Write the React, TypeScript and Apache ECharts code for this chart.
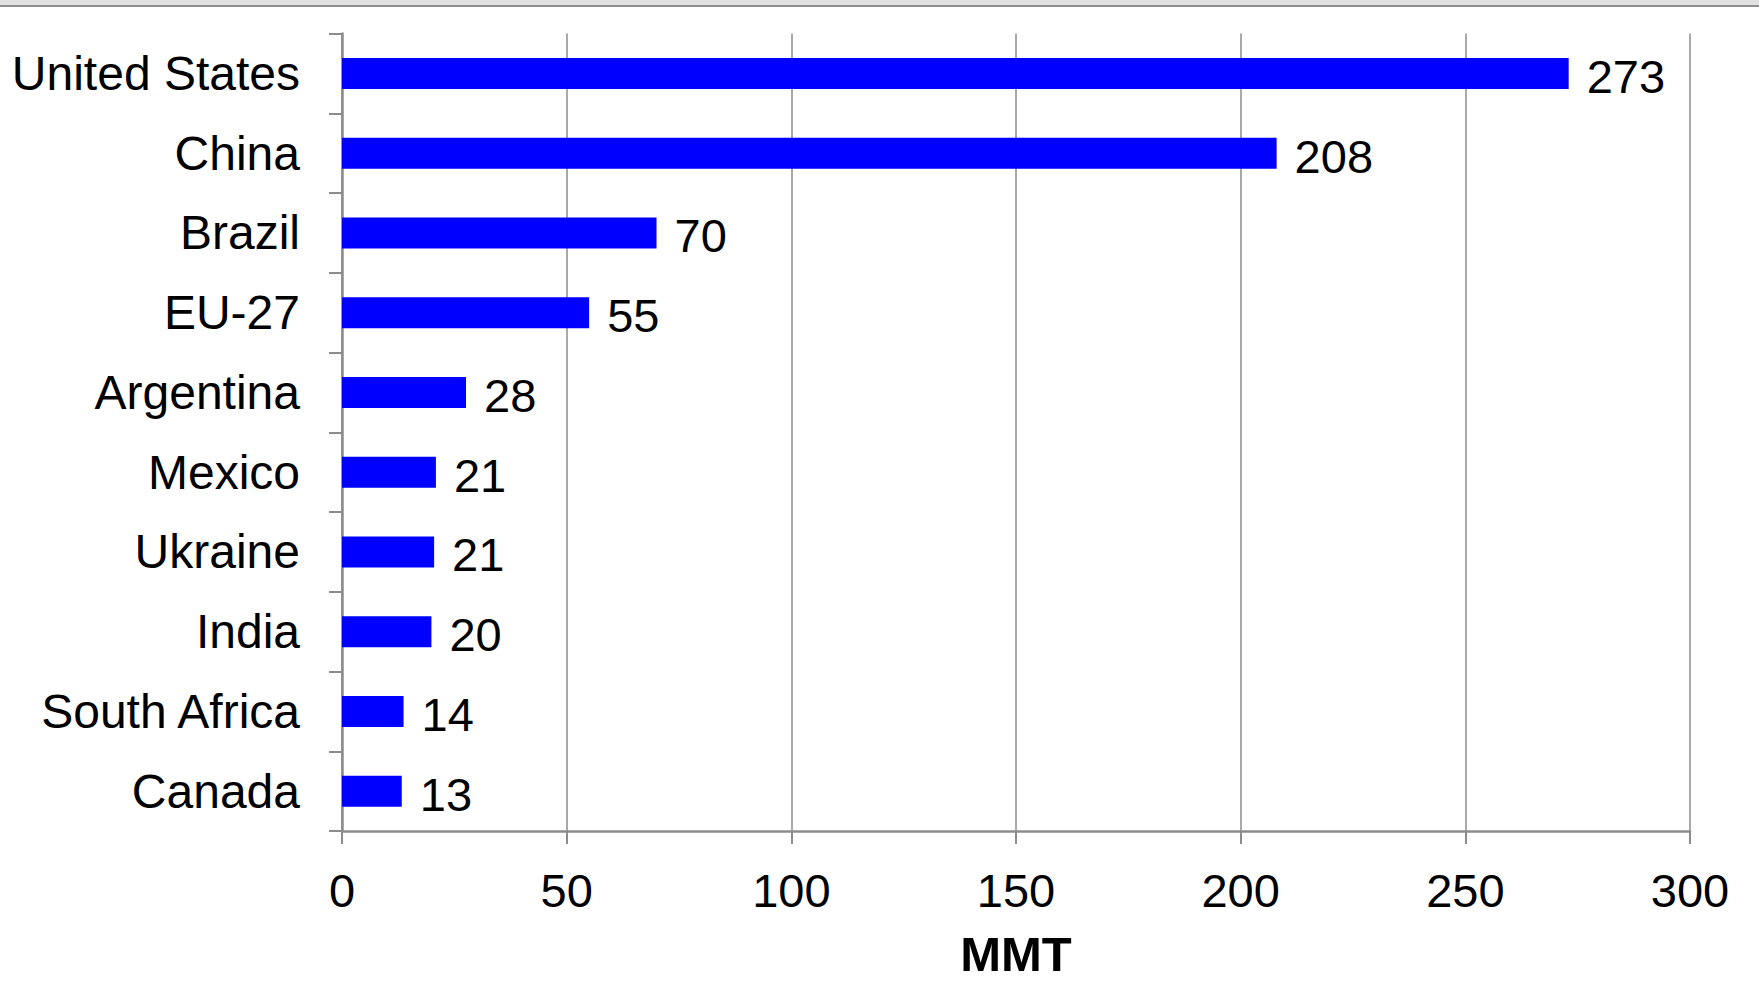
import React, { useEffect, useRef } from "react";
import * as echarts from "echarts";

const categories = [
  "United States",
  "China",
  "Brazil",
  "EU-27",
  "Argentina",
  "Mexico",
  "Ukraine",
  "India",
  "South Africa",
  "Canada",
];
const values = [273, 208, 70, 55, 27.6, 20.9, 20.5, 19.9, 13.7, 13.3];
const labels = [273, 208, 70, 55, 28, 21, 21, 20, 14, 13];
const xTicks = [0, 50, 100, 150, 200, 250, 300];
const axisName = "MMT";

const FONT = "'Liberation Sans', Arial, sans-serif";
const GRAY = "#8c8c8c";

export default function App() {
  const ref = useRef<HTMLDivElement>(null);
  useEffect(() => {
    if (!ref.current) return;
    const chart = echarts.init(ref.current, null, { renderer: "svg" });
    chart.setOption({
      animation: false,
      backgroundColor: "#ffffff",
      graphic: [
        { type: "rect", shape: { x: 0, y: 0, width: 1759, height: 5 }, style: { fill: "#e0e0e0" } },
        { type: "rect", shape: { x: 0, y: 5, width: 1759, height: 2 }, style: { fill: "#8e8e8e" } },
      ],
      grid: { left: 342, right: 69, top: 33.5, bottom: 177, containLabel: false },
      xAxis: {
        type: "value",
        min: xTicks[0],
        max: xTicks[xTicks.length - 1],
        interval: 50,
        name: axisName,
        nameLocation: "middle",
        nameGap: 98,
        nameTextStyle: { fontFamily: FONT, fontSize: 49, fontWeight: "bold", color: "#000" },
        axisLine: { show: true, lineStyle: { color: GRAY, width: 2.5 } },
        axisTick: { show: true, length: 13, lineStyle: { color: GRAY, width: 2 } },
        axisLabel: { fontFamily: FONT, fontSize: 47, color: "#000", margin: 36 },
        splitLine: { show: true, lineStyle: { color: GRAY, width: 1.5 } },
      },
      yAxis: {
        type: "category",
        data: categories,
        inverse: true,
        axisLine: { show: true, lineStyle: { color: GRAY, width: 2.5 } },
        axisTick: { show: true, length: 13, lineStyle: { color: GRAY, width: 2 } },
        axisLabel: { fontFamily: FONT, fontSize: 48, color: "#000", margin: 42 },
      },
      series: [
        {
          type: "bar",
          data: values,
          barWidth: 31,
          itemStyle: { color: "#0000ff" },
          label: {
            show: true,
            position: "right",
            distance: 18,
            offset: [0, 3],
            fontFamily: FONT,
            fontSize: 47,
            color: "#000",
            formatter: (p: any) => String(labels[p.dataIndex]),
          },
        },
      ],
    });
    return () => chart.dispose();
  }, []);
  return (
    <div
      ref={ref}
      style={{ position: "fixed", left: 0, top: 0, width: 1759, height: 1008 }}
    />
  );
}
